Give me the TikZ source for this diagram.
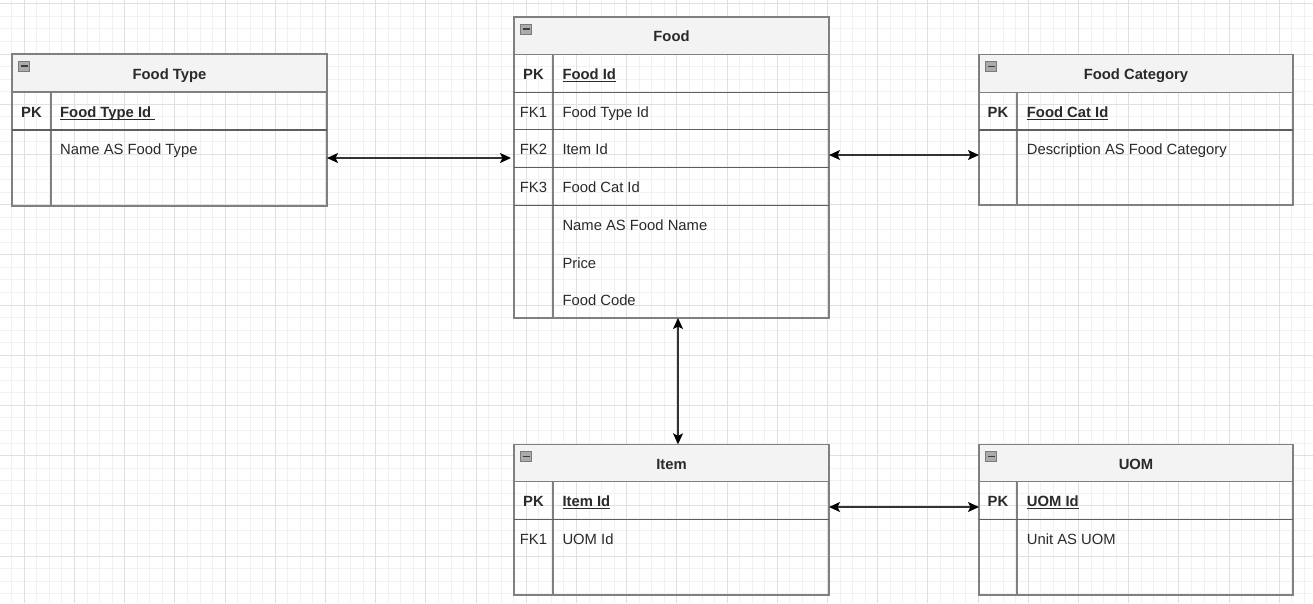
\documentclass[tikz,border=0pt]{standalone}
\usepackage{fontspec}
\setmainfont{Liberation Sans}
\usetikzlibrary{arrows.meta,calc}
\definecolor{gridminor}{HTML}{F1F1F1}
\definecolor{gridmajor}{HTML}{E0E0E0}
\definecolor{border}{HTML}{808080}
\definecolor{sepcol}{HTML}{5E5E5E}
\definecolor{headfill}{HTML}{F3F3F3}
\definecolor{txt}{HTML}{2A2A2A}
\definecolor{conncol}{HTML}{333333}
\definecolor{iconborder}{HTML}{7A7A7A}
\definecolor{iconfill}{HTML}{ABABAB}
\definecolor{icondash}{HTML}{3C3C3C}
\newcommand{\myul}[1]{\setbox0\hbox{#1}\rlap{\rule[-2.6pt]{\wd0}{1.2pt}}\box0}
\tikzset{
  x=1pt, y=-1pt,
  tblbox/.style={draw=border, line width=1.4pt, inner sep=0pt, outer sep=0pt, anchor=north west},
  hdrline/.style={draw=border, line width=1.4pt},
  rowsep/.style={draw=sepcol, line width=1.5pt},
  colline/.style={draw=border, line width=1.4pt},
  erttl/.style={font=\fontsize{14.8}{17}\selectfont\bfseries, text=txt, inner sep=0pt, anchor=base},
  keytxt/.style={font=\fontsize{14.8}{17}\selectfont, text=txt, inner sep=0pt, anchor=base},
  attr/.style={font=\fontsize{14.8}{17}\selectfont, text=txt, inner sep=0pt, anchor=base west},
  icon/.style={draw=iconborder, fill=iconfill, line width=0.9pt, minimum width=11pt, minimum height=10pt, inner sep=0pt,
    path picture={\draw[icondash, line width=1.5pt] ([xshift=2pt]path picture bounding box.west) -- ([xshift=-2pt]path picture bounding box.east);}},
  conn/.style={draw=conncol, line width=1.4pt, {Stealth[length=11pt,width=10pt,inset=2.5pt,color=black]}-{Stealth[length=11pt,width=10pt,inset=2.5pt,color=black]}}
}
% name, x1, y1, x2, y2, header bottom, column x, title
\newcommand{\ertbl}[8]{%
  \fill[headfill] (#2,#3) rectangle (#4,#6);
  \node[tblbox, minimum width={#4-#2}, minimum height={#5-#3}] (#1) at (#2,#3) {};
  \draw[hdrline] (#1.west |- 0,#6) -- (#1.east |- 0,#6);
  \draw[colline] (#7,#6) -- (#7,#5);
  \node[icon] (#1icon) at (#2+12,#3+12) {};
  \node[erttl] (#1title) at ({(#2+#4)/2},#6-12.7) {#8};
}
\begin{document}
\begin{tikzpicture}
\fill[white] (0,0) rectangle (1313,603);
\useasboundingbox (0,0) rectangle (1313,603);
% grid
\foreach \i in {-1,...,104} {\pgfmathsetmacro\xx{24.3+12.55*\i}\draw[gridminor, line width=1pt] (\xx,0) -- (\xx,603);}
\foreach \i in {0,...,48} {\pgfmathsetmacro\yy{3.8+12.55*\i}\draw[gridminor, line width=1pt] (0,\yy) -- (1313,\yy);}
\foreach \i in {0,...,26} {\pgfmathsetmacro\xx{24.3+50.2*\i}\draw[gridmajor, line width=1pt] (\xx,0) -- (\xx,603);}
\foreach \i in {0,...,12} {\pgfmathsetmacro\yy{3.8+50.2*\i}\draw[gridmajor, line width=1pt] (0,\yy) -- (1313,\yy);}

% Food Type
\ertbl{ft}{12}{54}{327}{206}{92}{51}{Food Type}
\draw[rowsep] (ft.west |- 0,130) -- (ft.east |- 0,130);
\node[keytxt] (ftpk) at (31.5,117.5) {\textbf{PK}};
\node[attr] (ftid) at (60,117.5) {\textbf{\myul{Food Type Id\ }}};
\node[attr] (ftname) at (60,154.3) {Name AS Food Type};

% Food
\ertbl{food}{514}{17}{829}{318}{54.5}{553}{Food}
\draw[rowsep] (food.west |- 0,92.3) -- (food.east |- 0,92.3);
\draw[rowsep] (food.west |- 0,129.5) -- (food.east |- 0,129.5);
\draw[rowsep] (food.west |- 0,167.7) -- (food.east |- 0,167.7);
\draw[rowsep] (food.west |- 0,205.7) -- (food.east |- 0,205.7);
\node[keytxt] (foodpk) at (533.5,79.3) {\textbf{PK}};
\node[attr] (foodid) at (562.3,79.3) {\textbf{\myul{Food Id}}};
\node[keytxt] (foodfk1) at (533.5,117.3) {FK1};
\node[attr] (foodtypeid) at (562.3,117.3) {Food Type Id};
\node[keytxt] (foodfk2) at (533.5,154.3) {FK2};
\node[attr] (fooditemid) at (562.3,154.3) {Item Id};
\node[keytxt] (foodfk3) at (533.5,192.7) {FK3};
\node[attr] (foodcatid) at (562.3,192.7) {Food Cat Id};
\node[attr] (foodname) at (562.3,230) {Name AS Food Name};
\node[attr] (foodprice) at (562.3,268) {Price};
\node[attr] (foodcode) at (562.3,305) {Food Code};

% Food Category
\ertbl{fc}{979}{54.5}{1293}{205}{92.5}{1017}{Food Category}
\draw[rowsep] (fc.west |- 0,130) -- (fc.east |- 0,130);
\node[keytxt] (fcpk) at (998,117.7) {\textbf{PK}};
\node[attr] (fcid) at (1026.7,117.7) {\textbf{\myul{Food Cat Id}}};
\node[attr] (fcdesc) at (1026.7,154.3) {Description AS Food Category};

% Item
\ertbl{item}{514}{444.3}{829}{595}{481.7}{553}{Item}
\draw[rowsep] (item.west |- 0,519.7) -- (item.east |- 0,519.7);
\node[keytxt] (itempk) at (533.5,506.7) {\textbf{PK}};
\node[attr] (itemid) at (562.3,506.7) {\textbf{\myul{Item Id}}};
\node[keytxt] (itemfk1) at (533.5,544.3) {FK1};
\node[attr] (itemuom) at (562.3,544.3) {UOM Id};

% UOM
\ertbl{uom}{979}{444.3}{1293}{595}{481.7}{1017}{UOM}
\draw[rowsep] (uom.west |- 0,519.7) -- (uom.east |- 0,519.7);
\node[keytxt] (uompk) at (998,506.7) {\textbf{PK}};
\node[attr] (uomid) at (1026.7,506.7) {\textbf{\myul{UOM Id}}};
\node[attr] (uomunit) at (1026.7,544.3) {Unit AS UOM};

% connectors
\draw[conn, shorten >=3pt] (ft.east |- 0,158) -- (food.west |- 0,158);
\draw[conn] (food.east |- 0,155) -- (fc.west |- 0,155);
\draw[conn] (food.south -| 678,0) -- (item.north -| 678,0);
\draw[conn] (item.east |- 0,507) -- (uom.west |- 0,507);
\end{tikzpicture}
\end{document}
